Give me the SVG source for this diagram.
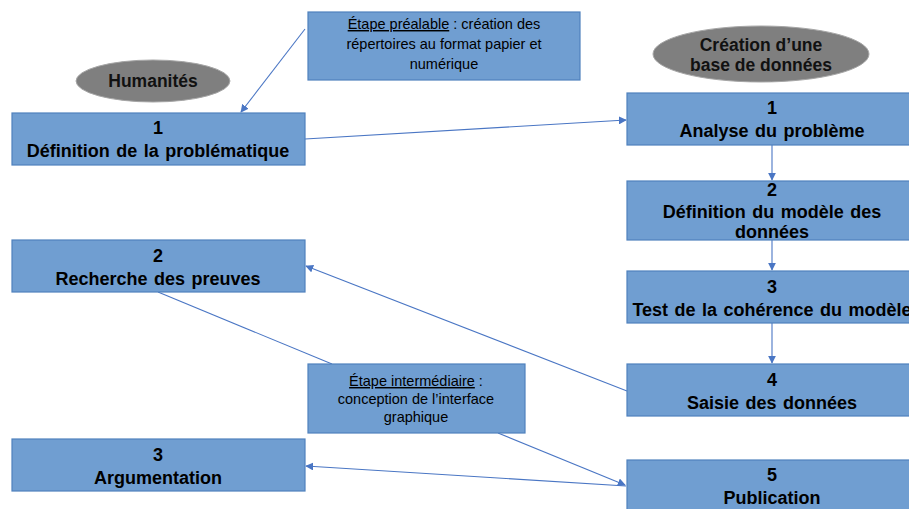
<svg xmlns="http://www.w3.org/2000/svg" width="909" height="509" viewBox="0 0 909 509">
<defs>
<style>
.box{fill:#709ed1;stroke:#4f81bd;stroke-width:1.2}
.ell{fill:#7f7f7f;stroke:#a6a6a6;stroke-width:1}
.t{font-family:"Liberation Sans",Arial,sans-serif;font-weight:bold;font-size:18px;word-spacing:1.5px;fill:#000;text-anchor:middle}
.e{font-family:"Liberation Sans",Arial,sans-serif;font-weight:bold;font-size:17.5px;fill:#111;text-anchor:middle}
.s{font-family:"Liberation Sans",Arial,sans-serif;font-size:14.5px;fill:#000;text-anchor:middle}
.c{fill:none;stroke:#4a76c4;stroke-width:1.1}
</style>
<marker id="arr" viewBox="0 0 10 10" refX="9" refY="5" markerWidth="8" markerHeight="8" markerUnits="userSpaceOnUse" orient="auto">
<path d="M0,0 L10,5 L0,10 z" fill="#4a76c4"/>
</marker>
</defs>
<rect width="909" height="509" fill="#fff"/>

<g id="connectors">
<line class="c" x1="305" y1="29" x2="241" y2="112" marker-end="url(#arr)"/>
<line class="c" x1="305" y1="139" x2="626" y2="120" marker-end="url(#arr)"/>
<line class="c" x1="772" y1="145" x2="772" y2="180" marker-end="url(#arr)"/>
<line class="c" x1="772" y1="240" x2="772" y2="270" marker-end="url(#arr)"/>
<line class="c" x1="772" y1="323" x2="772" y2="363" marker-end="url(#arr)"/>
<line class="c" x1="627" y1="391" x2="306" y2="266" marker-end="url(#arr)"/>
<line class="c" x1="158" y1="292" x2="332" y2="364"/>
<line class="c" x1="498" y1="433" x2="625" y2="485" marker-end="url(#arr)"/>
<line class="c" x1="626" y1="486" x2="306" y2="466" marker-end="url(#arr)"/>
</g>

<g id="etape-prealable">
<rect class="box" x="308" y="12" width="272" height="68"/>
<text class="s" x="444" y="29"><tspan text-decoration="underline">Étape préalable</tspan> : création des</text>
<text class="s" x="444" y="49">répertoires au format papier et</text>
<text class="s" x="444" y="69">numérique</text>
</g>

<g id="humanites">
<ellipse class="ell" cx="153" cy="81" rx="77" ry="21"/>
<text class="e" x="153" y="87">Humanités</text>
</g>

<g id="creation-bdd">
<ellipse class="ell" cx="761" cy="54" rx="108" ry="28"/>
<text class="e" x="761" y="51">Création d’une</text>
<text class="e" x="761" y="71">base de données</text>
</g>

<g id="h1">
<rect class="box" x="12" y="113" width="293" height="52"/>
<text class="t" x="158" y="134">1</text>
<text class="t" x="158" y="157">Définition de la problématique</text>
</g>

<g id="h2">
<rect class="box" x="12" y="240" width="293" height="52"/>
<text class="t" x="158" y="262">2</text>
<text class="t" x="158" y="285">Recherche des preuves</text>
</g>

<g id="h3">
<rect class="box" x="12" y="439" width="293" height="52"/>
<text class="t" x="158" y="461">3</text>
<text class="t" x="158" y="484">Argumentation</text>
</g>

<g id="etape-intermediaire">
<rect class="box" x="308" y="364" width="217" height="69"/>
<text class="s" x="416" y="386"><tspan text-decoration="underline">Étape intermédiaire</tspan> :</text>
<text class="s" x="416" y="404">conception de l’interface</text>
<text class="s" x="416" y="422">graphique</text>
</g>

<g id="b1">
<rect class="box" x="627" y="93" width="290" height="52"/>
<text class="t" x="772" y="114">1</text>
<text class="t" x="772" y="137">Analyse du problème</text>
</g>

<g id="b2">
<rect class="box" x="627" y="181" width="290" height="59"/>
<text class="t" x="772" y="196">2</text>
<text class="t" x="772" y="218">Définition du modèle des</text>
<text class="t" x="772" y="238">données</text>
</g>

<g id="b3">
<rect class="box" x="627" y="271" width="290" height="52"/>
<text class="t" x="772" y="293">3</text>
<text class="t" x="772" y="316">Test de la cohérence du modèle</text>
</g>

<g id="b4">
<rect class="box" x="627" y="364" width="290" height="52"/>
<text class="t" x="772" y="386">4</text>
<text class="t" x="772" y="409">Saisie des données</text>
</g>

<g id="b5">
<rect class="box" x="627" y="460" width="290" height="60"/>
<text class="t" x="772" y="481">5</text>
<text class="t" x="772" y="504">Publication</text>
</g>
</svg>
